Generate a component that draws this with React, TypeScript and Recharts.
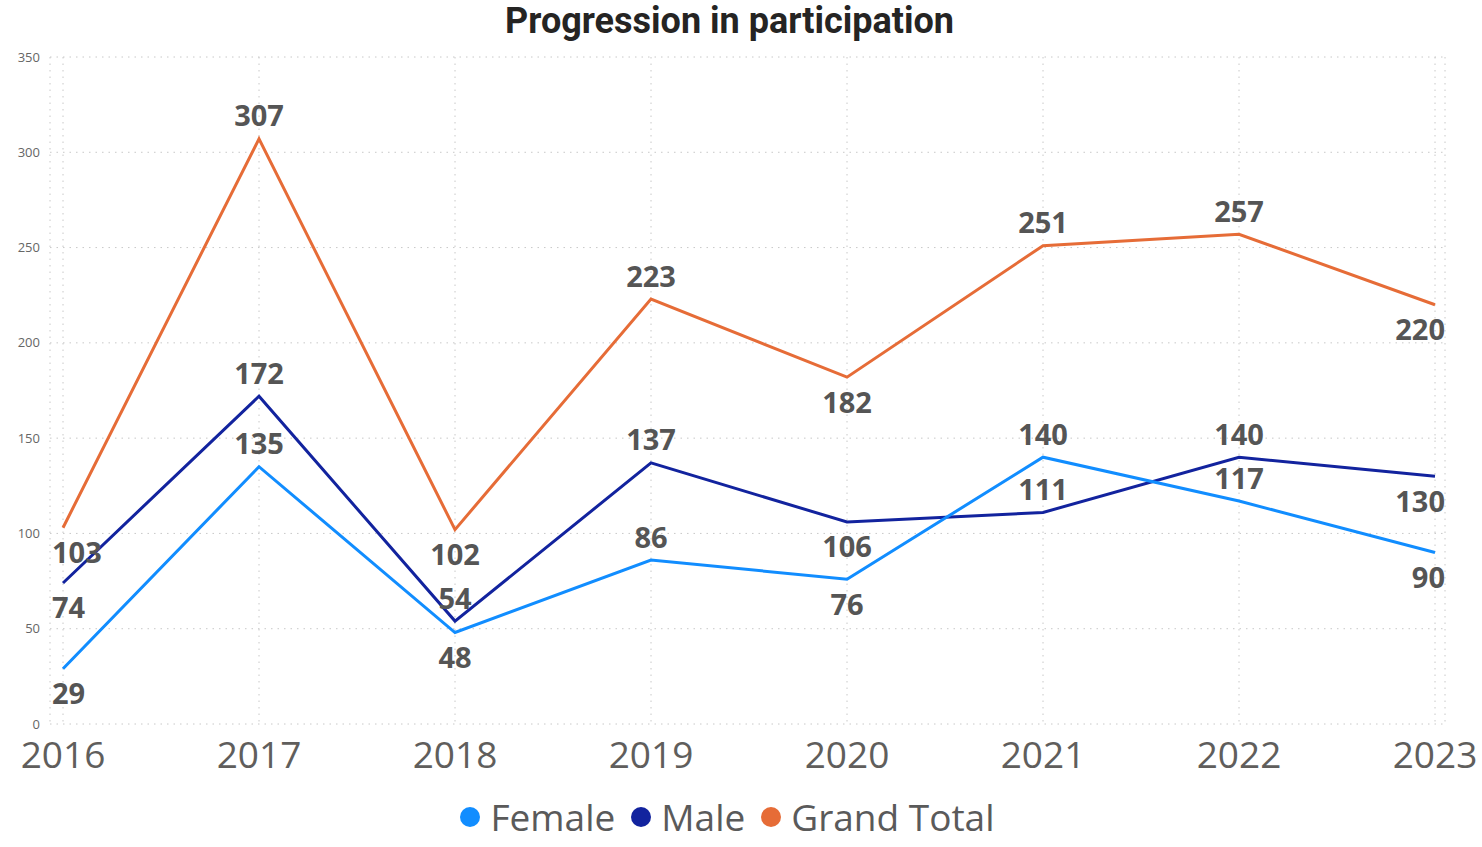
import React from 'react';
import { LineChart, Line, XAxis, YAxis, CartesianGrid, Legend } from 'recharts';

const years = ['2016', '2017', '2018', '2019', '2020', '2021', '2022', '2023'];
const female = [29, 135, 48, 86, 76, 140, 117, 90];
const male = [74, 172, 54, 137, 106, 111, 140, 130];
const grandTotal = [103, 307, 102, 223, 182, 251, 257, 220];
const yTicks = [0, 50, 100, 150, 200, 250, 300, 350];

const femalePlace = ['below', 'above', 'below', 'above', 'below', 'above', 'above', 'below'];
const malePlace = ['below', 'above', 'above', 'above', 'below', 'above', 'above', 'below'];
const totalPlace = ['below', 'above', 'below', 'above', 'below', 'above', 'above', 'below'];

const data = years.map((y, i) => ({
  year: y,
  female: female[i],
  male: male[i],
  total: grandTotal[i],
}));

const COLORS = { female: '#118DFF', male: '#12239E', total: '#E66C37' };
const series = [
  { key: 'female', name: 'Female', color: COLORS.female },
  { key: 'male', name: 'Male', color: COLORS.male },
  { key: 'total', name: 'Grand Total', color: COLORS.total },
];

const makeLabel = (places: string[]) => (props: any) => {
  const { x, y, value, index } = props;
  const below = places[index] === 'below';
  const ty = y + (below ? 24 : -24);
  let anchor: 'start' | 'middle' | 'end' = 'middle';
  let tx = x;
  if (index === 0) {
    anchor = 'start';
    tx = x - 11;
  } else if (index === years.length - 1) {
    anchor = 'end';
    tx = x + 10;
  }
  return (
    <text
      key={`l-${index}`}
      x={tx}
      y={ty}
      textAnchor={anchor}
      dominantBaseline="central"
      fontFamily="'Open Sans', sans-serif"
      fontWeight={700}
      fontSize={29}
      fill="#555555"
    >
      {value}
    </text>
  );
};

const LegendContent = () => (
  <div
    style={{
      display: 'flex',
      justifyContent: 'center',
      alignItems: 'center',
      height: 50,
      paddingLeft: 10,
      fontFamily: "'Open Sans', sans-serif",
      fontSize: 37,
      color: '#5A5A5A',
    }}
  >
    {series.map((s, i) => (
      <div
        key={s.key}
        style={{ display: 'flex', alignItems: 'center', marginRight: i === series.length - 1 ? 0 : 16 }}
      >
        <span
          style={{
            display: 'inline-block',
            width: 20,
            height: 20,
            borderRadius: '50%',
            background: s.color,
            marginRight: 10,
          }}
        />
        <span style={{ lineHeight: '50px' }}>{s.name}</span>
      </div>
    ))}
  </div>
);

export default function App() {
  return (
    <div style={{ position: 'absolute', left: 0, top: 0, width: 1482, height: 847, background: '#fff' }}>
      <div
        style={{
          position: 'absolute',
          left: 0,
          top: 0,
          width: 1459,
          textAlign: 'center',
          fontFamily: 'Roboto, sans-serif',
          fontWeight: 700,
          fontSize: 36,
          lineHeight: '42px',
          color: '#252423',
          zIndex: 2,
        }}
      >
        Progression in participation
      </div>
      <LineChart
        width={1482}
        height={847}
        data={data}
        margin={{ top: 57, right: 37, left: 0, bottom: 5 }}
      >
        <CartesianGrid stroke="#C8C8C8" strokeDasharray="1.5 5" vertical={true} />
        <XAxis
          dataKey="year"
          axisLine={false}
          tickLine={false}
          tickSize={0}
          tickMargin={18}
          height={68}
          padding={{ left: 13, right: 10 }}
          tick={{ fontFamily: "'Open Sans', sans-serif", fontSize: 37, fill: '#605E5C' }}
          interval={0}
        />
        <YAxis
          width={50}
          domain={[0, 350]}
          ticks={yTicks}
          axisLine={false}
          tickLine={false}
          tickSize={0}
          tickMargin={10}
          tick={{ fontFamily: "'Open Sans', sans-serif", fontSize: 13, fill: '#666666' }}
        />
        <Legend verticalAlign="bottom" content={<LegendContent />} />
        <Line
          dataKey="total"
          name="Grand Total"
          stroke={COLORS.total}
          strokeWidth={3}
          dot={false}
          isAnimationActive={false}
          label={makeLabel(totalPlace)}
        />
        <Line
          dataKey="male"
          name="Male"
          stroke={COLORS.male}
          strokeWidth={3}
          dot={false}
          isAnimationActive={false}
          label={makeLabel(malePlace)}
        />
        <Line
          dataKey="female"
          name="Female"
          stroke={COLORS.female}
          strokeWidth={3}
          dot={false}
          isAnimationActive={false}
          label={makeLabel(femalePlace)}
        />
      </LineChart>
    </div>
  );
}
